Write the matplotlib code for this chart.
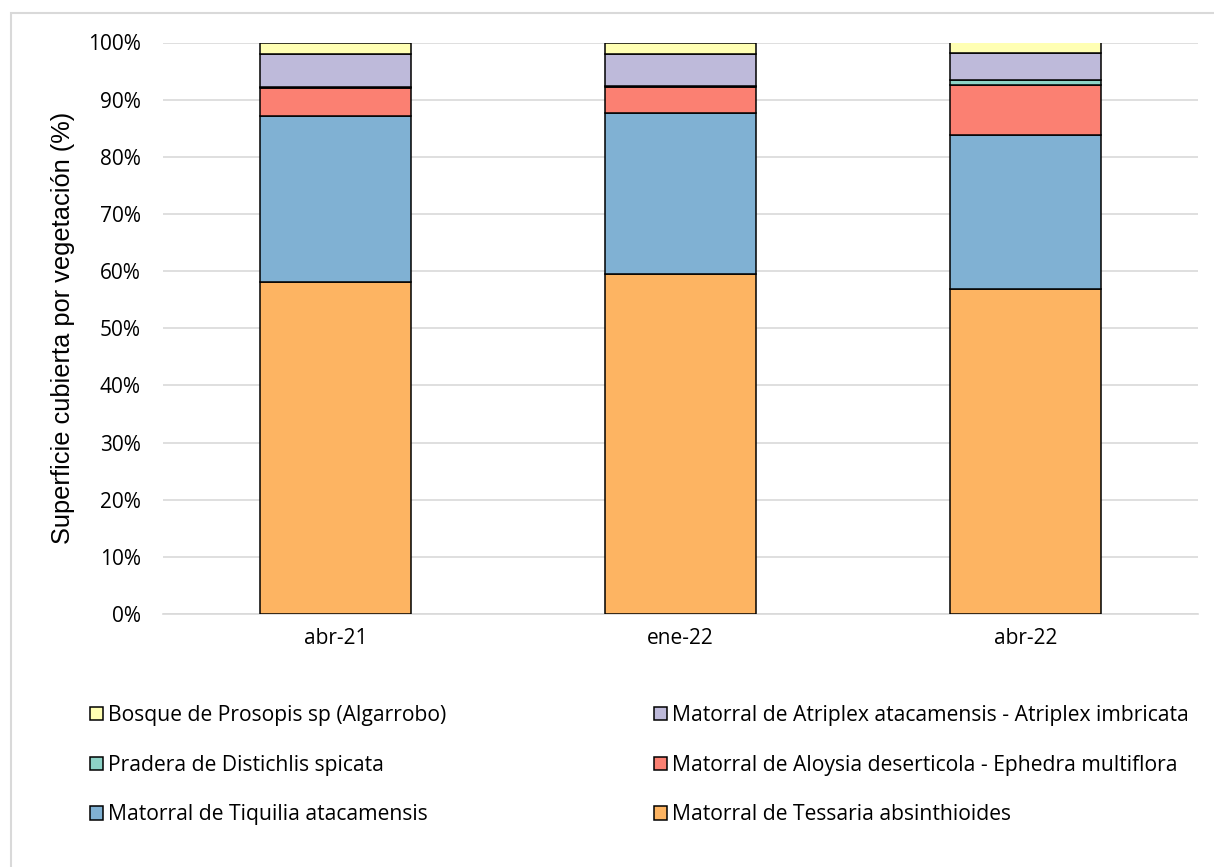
import matplotlib.pyplot as plt
from matplotlib.patches import Patch, Rectangle
import numpy as np

plt.rcParams['font.family'] = ['Open Sans', 'DejaVu Sans']

fechas = ['abr-21', 'ene-22', 'abr-22']

# cobertura (%) por formación vegetal, de abajo hacia arriba
tessaria = [58.1, 59.5, 56.9]
tiquilia = [29.1, 28.1, 27.0]
aloysia = [4.8, 4.6, 8.7]
distichlis = [0.2, 0.2, 0.8]
atriplex = [5.8, 5.6, 4.7]
prosopis = [2.0, 2.0, 1.9]

nombres = [
    'Matorral de Tessaria absinthioides',
    'Matorral de Tiquilia atacamensis',
    'Matorral de Aloysia deserticola - Ephedra multiflora',
    'Pradera de Distichlis spicata',
    'Matorral de Atriplex atacamensis - Atriplex imbricata',
    'Bosque de Prosopis sp (Algarrobo)',
]
colores = ['#FDB462', '#80B1D3', '#FB8072', '#8DD3C7', '#BEBADA', '#FFFFB3']


def main():
    series = [tessaria, tiquilia, aloysia, distichlis, atriplex, prosopis]

    fig = plt.figure(figsize=(12.14, 8.67), dpi=100)
    ax = fig.add_axes([163 / 1214, 1 - 614 / 867, (1198 - 163) / 1214, (614 - 42.5) / 867])

    # marco gris claro del gráfico
    fig.patches.append(Rectangle((11 / 1214, -0.1), 1.2, 1.1 - 13 / 867,
                                 transform=fig.transFigure, fill=False,
                                 edgecolor='#D9D9D9', linewidth=1.5))

    x = np.arange(len(fechas))
    base = np.zeros(len(fechas))
    for valores, color in zip(series, colores):
        ax.bar(x, valores, width=0.44, bottom=base, color=color,
               edgecolor='black', linewidth=1.1, zorder=3)
        base += np.array(valores)

    ax.set_xlim(-0.5, 2.5)
    ax.set_ylim(0, 100)
    ax.set_yticks(np.arange(0, 101, 10))
    ax.set_yticklabels([f'{v}%' for v in range(0, 101, 10)])
    ax.set_xticks(x)
    ax.set_xticklabels(fechas)
    ax.tick_params(axis='both', length=0, labelsize=15)
    ax.tick_params(axis='y', pad=16)
    ax.tick_params(axis='x', pad=10)
    ax.yaxis.grid(True, color='#D9D9D9', linewidth=1.2, zorder=0)
    for lado in ['top', 'right', 'left']:
        ax.spines[lado].set_visible(False)
    ax.spines['bottom'].set_color('#D9D9D9')
    ax.spines['bottom'].set_linewidth(1.2)
    ax.set_ylabel('Superficie cubierta por vegetación (%)', fontsize=18.3,
                  family=['Liberation Sans', 'DejaVu Sans'])
    ax.yaxis.set_label_coords(-88 / 1035, 0.5)

    handles = {n: Patch(facecolor=c, edgecolor='black', linewidth=1.1)
               for n, c in zip(nombres, colores)}
    izquierda = [nombres[5], nombres[3], nombres[1]]
    derecha = [nombres[4], nombres[2], nombres[0]]
    opciones = dict(loc='upper left', frameon=False, fontsize=15.2,
                    handlelength=0.6, handleheight=0.6, handletextpad=0.25,
                    labelspacing=1.36, borderaxespad=0, borderpad=0)
    fig.legend([handles[n] for n in izquierda], izquierda,
               bbox_to_anchor=(90 / 1214, 1 - 705 / 867), **opciones)
    fig.legend([handles[n] for n in derecha], derecha,
               bbox_to_anchor=(654 / 1214, 1 - 705 / 867), **opciones)

    fig.savefig('out.png', dpi=100)
    plt.close(fig)


if __name__ == '__main__':
    main()
